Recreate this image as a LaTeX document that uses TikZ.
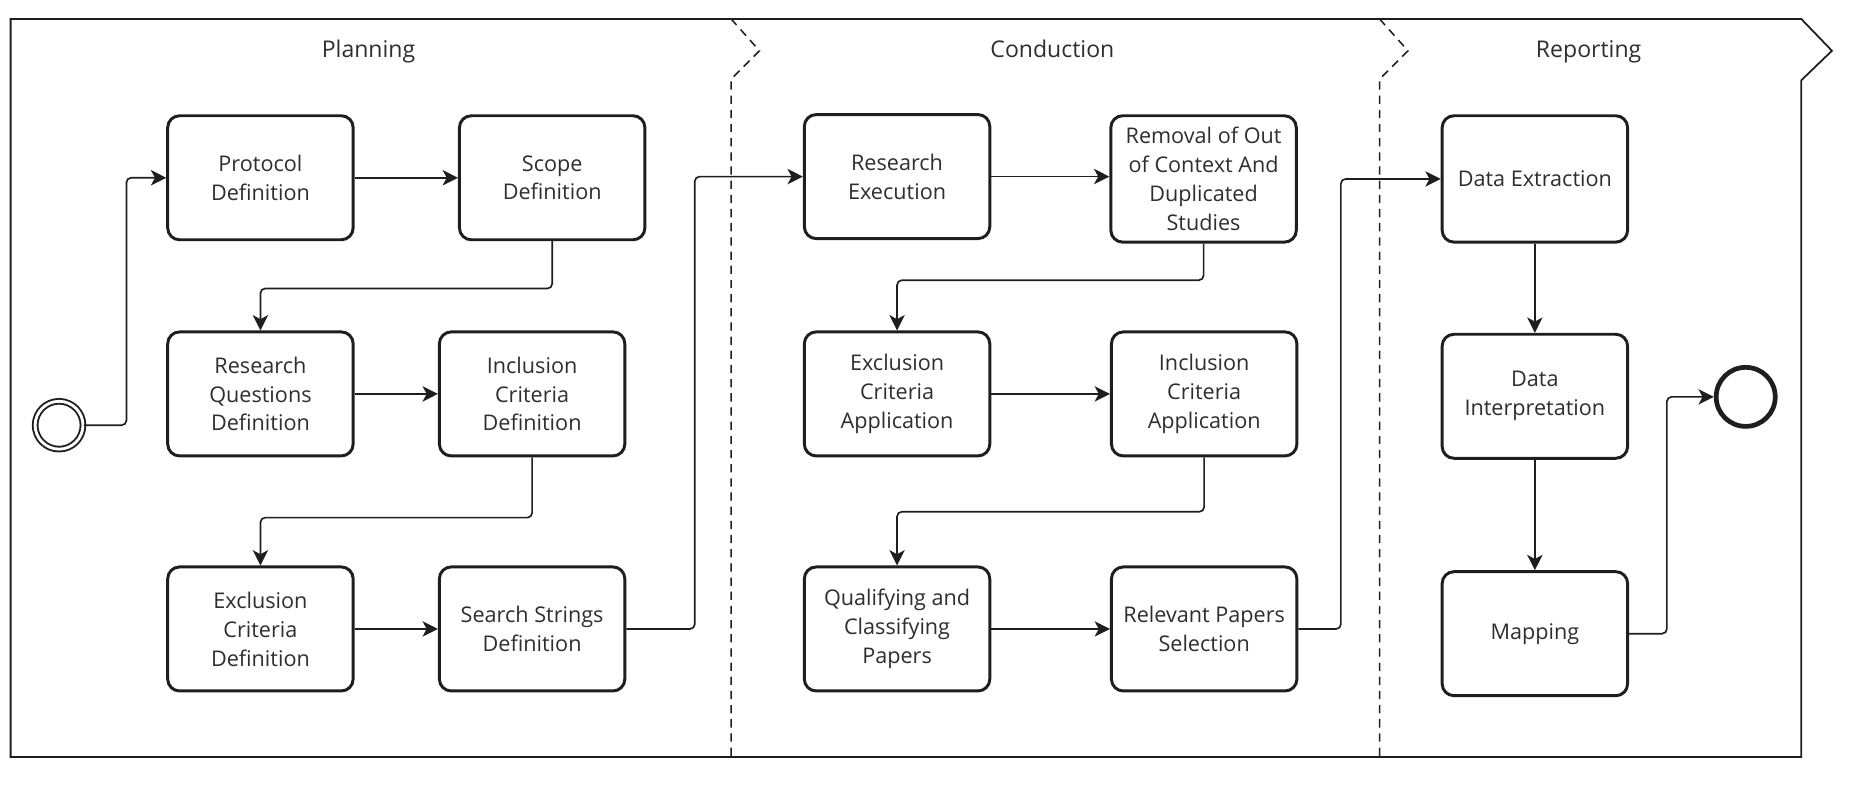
\documentclass[tikz,border=0pt]{standalone}
\usepackage{fontspec}
\setmainfont{Open Sans}
\usetikzlibrary{arrows.meta}
\definecolor{txt}{HTML}{2E2E2E}
\definecolor{ln}{HTML}{1E1E1E}
\tikzset{
  task/.style={draw=ln, line width=2.5pt, rounded corners=10pt, minimum width=157pt,
    minimum height=105pt, align=center, text=txt, inner sep=1pt,
    font=\fontsize{18.3}{24.5}\selectfont},
  lane/.style={text=txt, anchor=base, font=\fontsize{19.5}{24}\selectfont},
  flow/.style={draw=ln, line width=1.4pt, rounded corners=4pt,
    -{Stealth[length=13pt, width=13pt, inset=3.5pt]}},
  sep/.style={draw=ln, line width=1.3pt, dash pattern=on 7pt off 5pt},
  frame/.style={draw=ln, line width=1.5pt},
}
\begin{document}
\begin{tikzpicture}[x=1pt, y=-1pt]
\useasboundingbox (0,0) rectangle (1568,664);
% frame and lanes
\draw[frame] (9,16) -- (1525,16) -- (1551,43) -- (1525,68) -- (1525,641) -- (9,641) -- cycle;
\draw[sep] (619,16) -- (643,43) -- (619,67) -- (619,641);
\draw[sep] (1168,16) -- (1192,43) -- (1168,67) -- (1168,641);
\node[lane] (tPlan) at (312,49) {Planning};
\node[lane] (tCond) at (891,49) {Conduction};
\node[lane] (tRep) at (1345,49) {Reporting};
% events
\node[circle, draw=ln, line width=1.6pt, double, double distance=2.4pt, minimum size=40.5pt, inner sep=0pt] (start) at (50,360) {};
\node[circle, draw=ln, line width=4pt, minimum size=50pt, inner sep=0pt] (end) at (1478,336) {};
% planning
\node[task] (p1) at (220.5,150.5) {Protocol\\Definition};
\node[task] (p2) at (467.5,150.5) {Scope\\Definition};
\node[task] (p3) at (220.5,333.5) {Research\\Questions\\Definition};
\node[task] (p4) at (450.5,333.5) {Inclusion\\Criteria\\Definition};
\node[task] (p5) at (220.5,532.5) {Exclusion\\Criteria\\Definition};
\node[task] (p6) at (450.5,532.5) {Search Strings\\Definition};
% conduction
\node[task] (c1) at (759.5,149.5) {Research\\Execution};
\node[task, minimum height=107pt] (c2) at (1019,151.5) {Removal of Out\\of Context And\\Duplicated\\Studies};
\node[task] (c3) at (759.5,333.5) {Exclusion\\Criteria\\Application};
\node[task] (c4) at (1019.5,333.5) {Inclusion\\Criteria\\Application};
\node[task] (c5) at (759.5,532.5) {Qualifying and\\Classifying\\Papers};
\node[task] (c6) at (1019.5,532.5) {Relevant Papers\\Selection};
% reporting
\node[task, minimum height=107pt] (r1) at (1299.5,151.5) {Data Extraction};
\node[task] (r2) at (1299.5,335.5) {Data\\Interpretation};
\node[task] (r3) at (1299.5,536.5) {Mapping};
% flows
\draw[flow] (start.east) -- ++(36,0) |- (p1.west);
\draw[flow] (p1.east) -- (p2.west);
\draw[flow] (p2.south) -- ++(0,40) -| (p3.north);
\draw[flow] (p3.east) -- (p4.west);
\draw[flow] (p4.south) -- ++(0,51) -| (p5.north);
\draw[flow] (p5.east) -- (p6.west);
\draw[flow] (p6.east) -- ++(58,0) |- (c1.west);
\draw[flow] (c1.east) -- (c2.west |- c1.east);
\draw[flow] (c2.south) -- ++(0,31) -| (c3.north);
\draw[flow] (c3.east) -- (c4.west);
\draw[flow] (c4.south) -- ++(0,46) -| (c5.north);
\draw[flow] (c5.east) -- (c6.west);
\draw[flow] (c6.east) -- ++(36,0) |- (r1.west);
\draw[flow] (r1.south) -- (r2.north);
\draw[flow] (r2.south) -- (r3.north);
\draw[flow] (r3.east) -- ++(32,0) |- (end.west);
\end{tikzpicture}
\end{document}
